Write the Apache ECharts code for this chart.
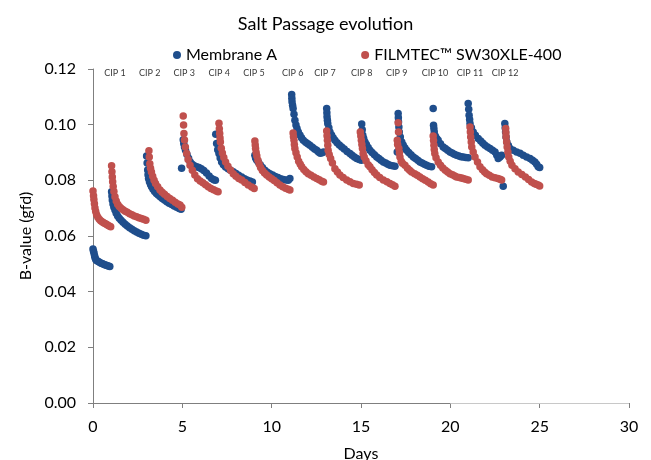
<!DOCTYPE html>
<html>
<head>
<meta charset="utf-8">
<script src="https://cdn.jsdelivr.net/npm/echarts@6/dist/echarts.min.js"></script>
<style>html,body{margin:0;padding:0;background:#fff}#c{width:651px;height:460px}</style>
</head>
<body>
<div id="c"></div>
<script>
// Membrane A (blue) — days and B-values, cycle by cycle
var blueDays = [
  0.00,0.03,0.06,0.09,0.12,0.16,0.22,0.30,0.38,0.46,0.54,0.62,0.70,0.78,0.86,0.94,
  1.04,1.06,1.08,1.12,1.17,1.23,1.30,1.38,1.47,1.57,1.68,1.80,1.92,2.05,2.18,2.31,2.44,2.57,2.70,2.83,2.96,
  3.00,3.03,3.06,3.08,3.11,3.16,3.22,3.28,3.36,3.45,3.55,3.65,3.76,3.88,4.00,4.13,4.26,4.40,4.54,4.68,4.82,4.93,
  4.96,5.05,5.08,5.12,5.18,5.26,5.35,5.44,5.55,5.67,5.80,5.93,6.06,6.20,6.35,6.50,6.64,6.76,6.85,
  6.87,6.92,6.98,7.05,7.12,7.20,7.30,7.42,7.56,7.70,7.85,8.00,8.15,8.32,8.48,8.62,8.78,8.92,
  9.06,9.10,9.16,9.25,9.36,9.48,9.62,9.76,9.90,10.05,10.20,10.35,10.50,10.65,10.80,10.93,11.02,
  11.12,11.13,11.14,11.17,11.20,11.25,11.30,11.36,11.42,11.49,11.58,11.67,11.77,11.90,12.02,12.14,12.28,12.40,12.52,12.62,12.72,12.82,12.90,
  13.08,13.09,13.10,13.12,13.14,13.20,13.26,13.35,13.44,13.54,13.66,13.79,13.92,14.06,14.22,14.38,14.50,14.63,14.76,14.90,15.02,
  15.04,15.07,15.10,15.15,15.22,15.30,15.40,15.50,15.62,15.75,15.88,16.00,16.12,16.25,16.38,16.50,16.62,16.76,16.90,
  17.03,17.08,17.09,17.10,17.12,17.14,17.20,17.28,17.36,17.45,17.55,17.67,17.80,17.93,18.05,18.18,18.30,18.42,18.55,18.67,18.80,18.95,
  19.04,19.06,19.08,19.10,19.16,19.24,19.32,19.45,19.60,19.72,19.85,19.98,20.10,20.22,20.35,20.48,20.60,20.72,20.86,21.00,
  21.00,21.03,21.05,21.08,21.10,21.18,21.28,21.40,21.56,21.70,21.82,21.94,22.08,22.22,22.36,22.50,22.60,22.68,22.78,22.87,22.96,
  23.05,23.07,23.09,23.12,23.16,23.25,23.34,23.52,23.71,23.90,24.08,24.27,24.46,24.60,24.73,24.83,24.92,25.00
];
var blueValues = [
  0.0553,0.0545,0.0537,0.0528,0.0521,0.0515,0.0511,0.0508,0.0505,0.0502,0.0500,0.0498,0.0496,0.0494,0.0492,0.0490,
  0.0759,0.0744,0.0729,0.0715,0.0703,0.0693,0.0682,0.0672,0.0664,0.0657,0.0649,0.0642,0.0636,0.0630,0.0624,0.0619,0.0614,0.0610,0.0606,0.0603,0.0601,
  0.0887,0.0862,0.0837,0.0820,0.0807,0.0795,0.0785,0.0777,0.0768,0.0760,0.0753,0.0747,0.0741,0.0735,0.0729,0.0723,0.0718,0.0713,0.0708,0.0703,0.0699,0.0696,
  0.0843,0.0946,0.0932,0.0920,0.0908,0.0893,0.0879,0.0866,0.0858,0.0852,0.0849,0.0846,0.0842,0.0835,0.0826,0.0816,0.0807,0.0802,0.0800,
  0.0966,0.0932,0.0910,0.0896,0.0880,0.0866,0.0856,0.0848,0.0842,0.0836,0.0831,0.0825,0.0818,0.0812,0.0806,0.0801,0.0798,0.0794,
  0.0890,0.0880,0.0873,0.0866,0.0856,0.0846,0.0836,0.0829,0.0824,0.0819,0.0814,0.0810,0.0806,0.0803,0.0801,0.0800,0.0807,
  0.1108,0.1095,0.1082,0.1070,0.1058,0.1037,0.1016,0.0999,0.0986,0.0974,0.0963,0.0953,0.0944,0.0937,0.0931,0.0926,0.0919,0.0913,0.0908,0.0902,0.0897,0.0899,0.0902,
  0.1058,0.1043,0.1028,0.1016,0.1004,0.0989,0.0974,0.0963,0.0953,0.0944,0.0935,0.0927,0.0920,0.0913,0.0904,0.0896,0.0890,0.0884,0.0878,0.0875,0.0872,
  0.1002,0.0982,0.0962,0.0950,0.0938,0.0929,0.0918,0.0908,0.0900,0.0892,0.0884,0.0878,0.0872,0.0866,0.0862,0.0858,0.0854,0.0852,0.0851,
  0.0902,0.1040,0.1025,0.1010,0.0992,0.0974,0.0956,0.0938,0.0927,0.0917,0.0908,0.0900,0.0892,0.0884,0.0878,0.0872,0.0866,0.0862,0.0858,0.0854,0.0851,0.0849,
  0.1058,0.0998,0.0986,0.0974,0.0959,0.0950,0.0944,0.0931,0.0920,0.0914,0.0908,0.0902,0.0898,0.0894,0.0890,0.0887,0.0885,0.0884,0.0882,0.0881,
  0.1076,0.1055,0.1034,0.1019,0.1004,0.0989,0.0974,0.0962,0.0950,0.0941,0.0933,0.0926,0.0920,0.0914,0.0908,0.0902,0.0890,0.0878,0.0884,0.0890,0.0779,
  0.1004,0.0989,0.0974,0.0956,0.0938,0.0925,0.0914,0.0908,0.0902,0.0897,0.0890,0.0884,0.0878,0.0872,0.0866,0.0858,0.0849,0.0846
];

// FILMTEC™ SW30XLE-400 (red) — days and B-values, cycle by cycle
var redDays = [
  0.00,0.03,0.05,0.08,0.11,0.15,0.20,0.27,0.35,0.43,0.51,0.59,0.67,0.75,0.83,0.91,0.99,
  1.04,1.06,1.08,1.10,1.13,1.17,1.23,1.30,1.38,1.47,1.57,1.68,1.80,1.92,2.05,2.18,2.31,2.44,2.57,2.70,2.83,2.96,
  3.13,3.15,3.18,3.22,3.27,3.34,3.42,3.50,3.62,3.75,3.87,4.00,4.15,4.30,4.45,4.60,4.75,4.87,4.97,
  5.05,5.07,5.09,5.12,5.17,5.24,5.32,5.43,5.56,5.70,5.85,6.00,6.15,6.30,6.45,6.60,6.75,6.90,7.00,
  7.05,7.07,7.09,7.11,7.13,7.18,7.24,7.32,7.42,7.55,7.70,7.85,8.00,8.16,8.32,8.50,8.69,8.88,9.02,
  9.06,9.08,9.10,9.13,9.17,9.23,9.30,9.38,9.48,9.60,9.72,9.86,10.00,10.14,10.30,10.46,10.62,10.78,10.92,11.02,
  11.20,11.22,11.25,11.27,11.30,11.36,11.43,11.51,11.60,11.68,11.80,11.92,12.05,12.20,12.36,12.52,12.66,12.80,12.90,
  13.08,13.10,13.12,13.14,13.16,13.22,13.30,13.40,13.54,13.68,13.82,14.00,14.20,14.38,14.57,14.75,14.90,
  14.96,14.99,15.02,15.05,15.08,15.12,15.18,15.28,15.40,15.50,15.62,15.75,15.88,16.05,16.25,16.45,16.62,16.76,16.90,
  17.03,17.05,17.08,17.10,17.12,17.15,17.18,17.25,17.32,17.46,17.60,17.72,17.83,18.00,18.15,18.30,18.45,18.60,18.76,18.90,19.04,
  19.04,19.06,19.08,19.10,19.13,19.20,19.32,19.45,19.58,19.72,19.85,19.98,20.12,20.25,20.35,20.50,20.62,20.72,20.86,21.00,
  21.10,21.12,21.14,21.17,21.20,21.28,21.38,21.52,21.66,21.80,21.92,22.03,22.18,22.34,22.50,22.66,22.78,22.87,
  23.10,23.11,23.12,23.15,23.18,23.22,23.27,23.35,23.45,23.62,23.80,24.00,24.20,24.38,24.55,24.70,24.80,24.92,25.00
];
var redValues = [
  0.0762,0.0745,0.0731,0.0716,0.0701,0.0688,0.0676,0.0667,0.0660,0.0655,0.0651,0.0648,0.0645,0.0642,0.0639,0.0636,0.0633,
  0.0852,0.0831,0.0812,0.0795,0.0778,0.0760,0.0741,0.0726,0.0714,0.0706,0.0700,0.0694,0.0689,0.0685,0.0680,0.0676,0.0672,0.0669,0.0666,0.0663,0.0660,0.0657,
  0.0906,0.0884,0.0860,0.0843,0.0830,0.0815,0.0800,0.0789,0.0777,0.0765,0.0757,0.0750,0.0742,0.0735,0.0728,0.0721,0.0715,0.0711,0.0703,
  0.1031,0.0999,0.0968,0.0945,0.0920,0.0896,0.0875,0.0854,0.0836,0.0819,0.0806,0.0798,0.0791,0.0784,0.0777,0.0771,0.0766,0.0762,0.0759,
  0.1005,0.0985,0.0968,0.0952,0.0938,0.0915,0.0898,0.0882,0.0866,0.0851,0.0836,0.0824,0.0815,0.0807,0.0801,0.0792,0.0783,0.0776,0.0771,
  0.0941,0.0927,0.0914,0.0900,0.0887,0.0872,0.0859,0.0846,0.0835,0.0826,0.0819,0.0812,0.0806,0.0799,0.0791,0.0783,0.0777,0.0772,0.0768,0.0765,
  0.0970,0.0957,0.0944,0.0929,0.0914,0.0899,0.0884,0.0869,0.0858,0.0849,0.0839,0.0831,0.0824,0.0818,0.0812,0.0807,0.0802,0.0797,0.0794,
  0.0977,0.0960,0.0944,0.0926,0.0908,0.0893,0.0878,0.0862,0.0842,0.0830,0.0819,0.0810,0.0801,0.0795,0.0789,0.0786,0.0783,
  0.0974,0.0959,0.0944,0.0929,0.0914,0.0896,0.0884,0.0870,0.0856,0.0849,0.0838,0.0828,0.0819,0.0810,0.0801,0.0795,0.0789,0.0784,0.0779,
  0.0944,0.0929,0.1007,0.0974,0.0914,0.0899,0.0884,0.0869,0.0861,0.0854,0.0843,0.0836,0.0830,0.0824,0.0818,0.0812,0.0806,0.0800,0.0794,0.0788,0.0783,
  0.0959,0.0943,0.0926,0.0911,0.0896,0.0881,0.0866,0.0854,0.0844,0.0836,0.0830,0.0824,0.0820,0.0816,0.0812,0.0810,0.0808,0.0807,0.0804,0.0801,
  0.0992,0.0974,0.0956,0.0938,0.0920,0.0902,0.0884,0.0866,0.0849,0.0838,0.0830,0.0824,0.0818,0.0812,0.0809,0.0807,0.0804,0.0801,
  0.0986,0.0971,0.0956,0.0938,0.0920,0.0902,0.0884,0.0869,0.0854,0.0842,0.0830,0.0821,0.0812,0.0803,0.0794,0.0789,0.0786,0.0783,0.0780
];

// CIP annotation labels and their positions (day, B-value)
var cipLabels = ['CIP 1','CIP 2','CIP 3','CIP 4','CIP 5','CIP 6','CIP 7','CIP 8','CIP 9','CIP 10','CIP 11','CIP 12'];
var cipDays = [1.23,3.18,5.11,7.07,9.01,11.18,12.98,15.04,17.0,19.14,21.1,23.06];
var cipLevel = 0.1185;

var xTicks = [0,5,10,15,20,25,30];
var yTicks = [0,0.02,0.04,0.06,0.08,0.10,0.12];

function zip(a, b) { return a.map(function (v, i) { return [v, b[i]]; }); }

var FONT = 'Lato, "Open Sans", sans-serif';
var chart = echarts.init(document.getElementById('c'), null, {renderer: 'canvas'});
chart.setOption({
  animation: false,
  backgroundColor: '#ffffff',
  textStyle: {fontFamily: FONT, color: '#000'},
  title: {
    text: 'Salt Passage evolution', left: 'center', top: 10,
    textStyle: {fontFamily: FONT, fontSize: 18, fontWeight: 'normal', color: '#000'}
  },
  legend: {
    data: ['Membrane A', 'FILMTEC™ SW30XLE-400'],
    top: 42, left: 168, itemGap: 84, icon: 'circle', itemWidth: 8, itemHeight: 8,
    textStyle: {fontFamily: FONT, fontSize: 16, color: '#000'}
  },
  grid: {left: 93, right: 22, top: 69, bottom: 57, containLabel: false, outerBoundsMode: 'none'},
  xAxis: {
    type: 'value', min: xTicks[0], max: xTicks[xTicks.length - 1], interval: 5,
    name: 'Days', nameLocation: 'middle', nameGap: 43,
    nameTextStyle: {fontFamily: FONT, fontSize: 16, color: '#000'},
    axisLine: {lineStyle: {color: '#7f7f7f', width: 1}},
    axisTick: {show: true, length: 5, lineStyle: {color: '#7f7f7f'}},
    axisLabel: {fontFamily: FONT, fontSize: 16, color: '#000', margin: 16},
    splitLine: {show: false}
  },
  yAxis: {
    type: 'value', min: yTicks[0], max: yTicks[yTicks.length - 1], interval: 0.02,
    name: 'B-value (gfd)', nameLocation: 'middle', nameGap: 56, nameRotate: 90,
    nameTextStyle: {fontFamily: FONT, fontSize: 16, color: '#000'},
    axisLine: {show: true, lineStyle: {color: '#7f7f7f', width: 1}},
    axisTick: {show: true, length: 5, lineStyle: {color: '#7f7f7f'}},
    axisLabel: {fontFamily: FONT, fontSize: 16, color: '#000', margin: 17,
      formatter: function (v) { return v.toFixed(2); }},
    splitLine: {show: false}
  },
  series: [
    {
      name: 'Membrane A', type: 'scatter', symbol: 'circle', symbolSize: 7.5,
      itemStyle: {color: '#1f4e8c', opacity: 1},
      data: zip(blueDays, blueValues)
    },
    {
      name: 'FILMTEC™ SW30XLE-400', type: 'scatter', symbol: 'circle', symbolSize: 7.5,
      itemStyle: {color: '#c0504d', opacity: 1},
      data: zip(redDays, redValues)
    },
    {
      name: 'cip', type: 'scatter', symbolSize: 0, silent: true,
      label: {show: true, position: 'inside', formatter: '{b}',
        fontFamily: FONT, fontSize: 9, color: '#000'},
      data: cipLabels.map(function (n, i) { return {name: n, value: [cipDays[i], cipLevel]}; }),
      markLine: {
        silent: true, symbol: 'none', label: {show: false},
        lineStyle: {color: '#c8c8c8', width: 1, type: 'solid'},
        data: [[{coord: [20, 0]}, {coord: [30, 0]}]]
      }
    }
  ]
});
</script>
</body>
</html>
